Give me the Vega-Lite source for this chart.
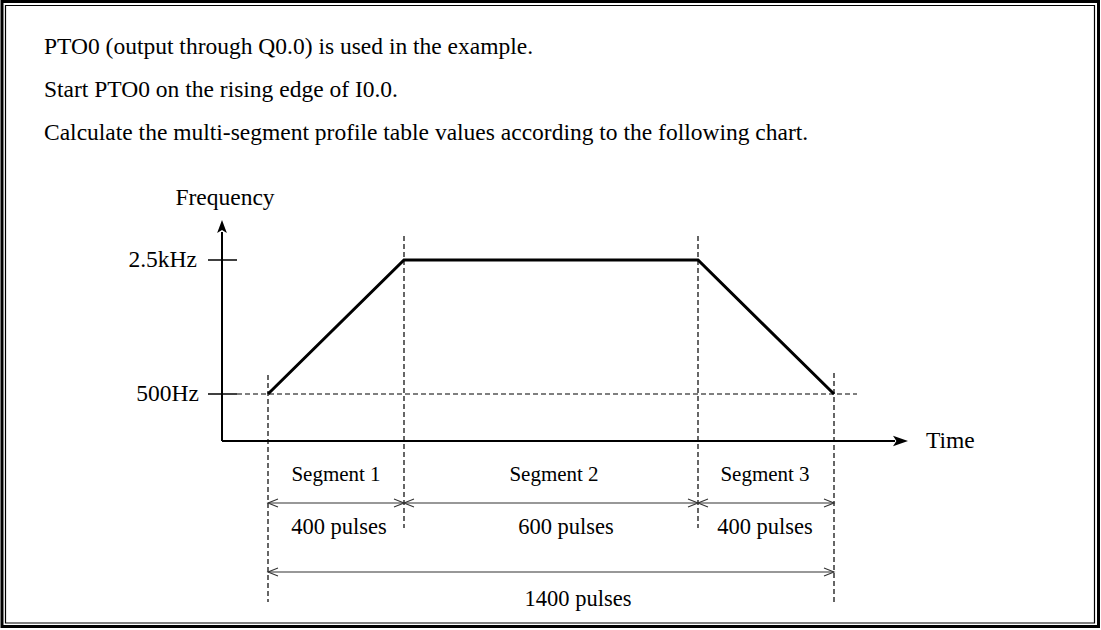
{
  "$schema": "https://vega.github.io/schema/vega-lite/v6.json",
  "width": 1101,
  "height": 630,
  "autosize": {"type": "fit", "contains": "padding"},
  "padding": 0,
  "background": "white",
  "config": {"view": {"stroke": null}},
  "datasets": {
    "frame": [
      {"x": 2, "y": 1.5, "x2": 1098.5, "y2": 626.5, "kind": "outer"},
      {"x": 5.5, "y": 5.5, "x2": 1094.5, "y2": 623, "kind": "inner"}
    ],
    "lines": [
      {"x": 222, "y": 232, "x2": 222, "y2": 441, "kind": "axis"},
      {"x": 222, "y": 441, "x2": 895, "y2": 441, "kind": "axis"},
      {"x": 208, "y": 260, "x2": 237, "y2": 260, "kind": "tick"},
      {"x": 208, "y": 394, "x2": 237, "y2": 394, "kind": "tick"},
      {"x": 237, "y": 394, "x2": 857, "y2": 394, "kind": "guide"},
      {"x": 268, "y": 375, "x2": 268, "y2": 602, "kind": "guide"},
      {"x": 404, "y": 236, "x2": 404, "y2": 528, "kind": "guide"},
      {"x": 698, "y": 236, "x2": 698, "y2": 528, "kind": "guide"},
      {"x": 834, "y": 373, "x2": 834, "y2": 604, "kind": "guide"},
      {"x": 268, "y": 503, "x2": 404, "y2": 503, "kind": "span"},
      {"x": 404, "y": 503, "x2": 698, "y2": 503, "kind": "span"},
      {"x": 698, "y": 503, "x2": 834, "y2": 503, "kind": "span"},
      {"x": 268, "y": 572, "x2": 834, "y2": 572, "kind": "span"}
    ],
    "profile": [
      {"x": 268, "y": 394, "step": 1},
      {"x": 404, "y": 260, "step": 2},
      {"x": 698, "y": 260, "step": 3},
      {"x": 834, "y": 394, "step": 4}
    ],
    "heads": [
      {"x": 222, "y": 226.5, "dir": "up"},
      {"x": 900.5, "y": 441, "dir": "right"}
    ],
    "chevrons": [
      {"x": 268, "y": 503, "dir": "left"},
      {"x": 404, "y": 503, "dir": "left"},
      {"x": 698, "y": 503, "dir": "left"},
      {"x": 268, "y": 572, "dir": "left"},
      {"x": 404, "y": 503, "dir": "right"},
      {"x": 698, "y": 503, "dir": "right"},
      {"x": 834, "y": 503, "dir": "right"},
      {"x": 834, "y": 572, "dir": "right"}
    ],
    "texts": [
      {"x": 44, "y": 47, "label": "PTO0 (output through Q0.0) is used in the example.", "kind": "para"},
      {"x": 44, "y": 90, "label": "Start PTO0 on the rising edge of I0.0.", "kind": "para"},
      {"x": 44, "y": 133, "label": "Calculate the multi-segment profile table values according to the following chart.", "kind": "para"},
      {"x": 926, "y": 441, "label": "Time", "kind": "para"},
      {"x": 225, "y": 198, "label": "Frequency", "kind": "title"},
      {"x": 197, "y": 260, "label": "2.5kHz", "kind": "ylabel"},
      {"x": 199, "y": 394, "label": "500Hz", "kind": "ylabel"},
      {"x": 336, "y": 475, "label": "Segment 1", "kind": "segment"},
      {"x": 554, "y": 475, "label": "Segment 2", "kind": "segment"},
      {"x": 765, "y": 475, "label": "Segment 3", "kind": "segment"},
      {"x": 339, "y": 527, "label": "400 pulses", "kind": "pulses"},
      {"x": 566, "y": 527, "label": "600 pulses", "kind": "pulses"},
      {"x": 765, "y": 527, "label": "400 pulses", "kind": "pulses"},
      {"x": 578, "y": 599, "label": "1400 pulses", "kind": "pulses"}
    ]
  },
  "encoding": {
    "x": {"field": "x", "type": "quantitative", "scale": {"domain": [0, 1101], "nice": false, "zero": false}, "axis": null},
    "y": {"field": "y", "type": "quantitative", "scale": {"domain": [0, 630], "nice": false, "zero": false, "reverse": true}, "axis": null}
  },
  "layer": [
    {
      "data": {"name": "frame"},
      "transform": [{"filter": "datum.kind === 'outer'"}],
      "mark": {"type": "rect", "fill": "transparent", "stroke": "black", "strokeWidth": 3},
      "encoding": {"x2": {"field": "x2"}, "y2": {"field": "y2"}}
    },
    {
      "data": {"name": "frame"},
      "transform": [{"filter": "datum.kind === 'inner'"}],
      "mark": {"type": "rect", "fill": "transparent", "stroke": "black", "strokeWidth": 1.2},
      "encoding": {"x2": {"field": "x2"}, "y2": {"field": "y2"}}
    },
    {
      "data": {"name": "lines"},
      "transform": [{"filter": "datum.kind === 'guide'"}],
      "mark": {"type": "rule", "color": "black", "strokeWidth": 1.2, "strokeDash": [5, 3]},
      "encoding": {"x2": {"field": "x2"}, "y2": {"field": "y2"}}
    },
    {
      "data": {"name": "lines"},
      "transform": [{"filter": "datum.kind === 'axis'"}],
      "mark": {"type": "rule", "color": "black", "strokeWidth": 2},
      "encoding": {"x2": {"field": "x2"}, "y2": {"field": "y2"}}
    },
    {
      "data": {"name": "lines"},
      "transform": [{"filter": "datum.kind === 'tick'"}],
      "mark": {"type": "rule", "color": "black", "strokeWidth": 1.5},
      "encoding": {"x2": {"field": "x2"}, "y2": {"field": "y2"}}
    },
    {
      "data": {"name": "lines"},
      "transform": [{"filter": "datum.kind === 'span'"}],
      "mark": {"type": "rule", "color": "#333333", "strokeWidth": 1.1},
      "encoding": {"x2": {"field": "x2"}, "y2": {"field": "y2"}}
    },
    {
      "data": {"name": "profile"},
      "mark": {"type": "line", "color": "black", "strokeWidth": 3, "strokeJoin": "miter"},
      "encoding": {"order": {"field": "step", "type": "quantitative"}}
    },
    {
      "data": {"name": "heads"},
      "transform": [{"filter": "datum.dir === 'up'"}],
      "mark": {"type": "point", "filled": true, "color": "black", "opacity": 1, "size": 169, "shape": "M0,-1L-0.75,1L0,0.55L0.75,1Z"}
    },
    {
      "data": {"name": "heads"},
      "transform": [{"filter": "datum.dir === 'right'"}],
      "mark": {"type": "point", "filled": true, "color": "black", "opacity": 1, "size": 225, "shape": "M1,0L-1,-0.7L-0.55,0L-1,0.7Z"}
    },
    {
      "data": {"name": "chevrons"},
      "transform": [{"filter": "datum.dir === 'left'"}],
      "mark": {"type": "point", "filled": false, "color": "#333333", "opacity": 1, "strokeWidth": 1.1, "size": 100, "shape": "M2,-0.8L0,0L2,0.8"}
    },
    {
      "data": {"name": "chevrons"},
      "transform": [{"filter": "datum.dir === 'right'"}],
      "mark": {"type": "point", "filled": false, "color": "#333333", "opacity": 1, "strokeWidth": 1.1, "size": 100, "shape": "M-2,-0.8L0,0L-2,0.8"}
    },
    {
      "data": {"name": "texts"},
      "transform": [{"filter": "datum.kind === 'para'"}],
      "mark": {"type": "text", "align": "left", "baseline": "middle", "font": "Liberation Serif", "fontSize": 23.5, "color": "black"},
      "encoding": {"text": {"field": "label"}}
    },
    {
      "data": {"name": "texts"},
      "transform": [{"filter": "datum.kind === 'title'"}],
      "mark": {"type": "text", "align": "center", "baseline": "middle", "font": "Liberation Serif", "fontSize": 23.5, "color": "black"},
      "encoding": {"text": {"field": "label"}}
    },
    {
      "data": {"name": "texts"},
      "transform": [{"filter": "datum.kind === 'ylabel'"}],
      "mark": {"type": "text", "align": "right", "baseline": "middle", "font": "Liberation Serif", "fontSize": 23.5, "color": "black"},
      "encoding": {"text": {"field": "label"}}
    },
    {
      "data": {"name": "texts"},
      "transform": [{"filter": "datum.kind === 'segment'"}],
      "mark": {"type": "text", "align": "center", "baseline": "middle", "font": "Liberation Serif", "fontSize": 21, "color": "black"},
      "encoding": {"text": {"field": "label"}}
    },
    {
      "data": {"name": "texts"},
      "transform": [{"filter": "datum.kind === 'pulses'"}],
      "mark": {"type": "text", "align": "center", "baseline": "middle", "font": "Liberation Serif", "fontSize": 22.5, "color": "black"},
      "encoding": {"text": {"field": "label"}}
    }
  ]
}
